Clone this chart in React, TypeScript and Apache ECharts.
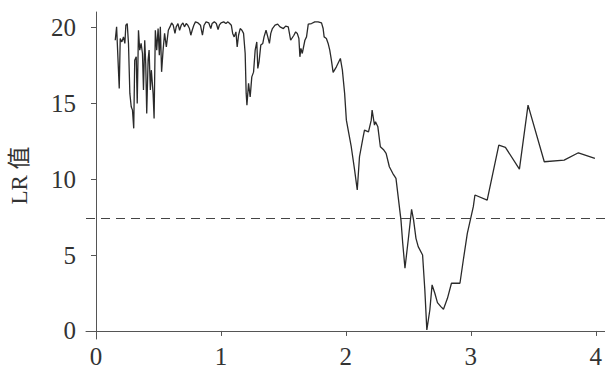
import React, { useEffect, useRef } from "react";
import * as echarts from "echarts";

const xValues: number[] = [
  0.154, 0.165, 0.186, 0.194, 0.207, 0.22, 0.231, 0.239, 0.25, 0.26,
  0.271, 0.282, 0.292, 0.302, 0.31, 0.322, 0.33, 0.34, 0.35, 0.361,
  0.372, 0.38, 0.39, 0.398, 0.406, 0.417, 0.425, 0.435, 0.443, 0.457,
  0.465, 0.475, 0.486, 0.497, 0.507, 0.515, 0.525, 0.537, 0.549, 0.563,
  0.579, 0.592, 0.605, 0.618, 0.632, 0.642, 0.656, 0.669, 0.682, 0.696,
  0.708, 0.722, 0.735, 0.748, 0.759, 0.77, 0.783, 0.796, 0.817, 0.836,
  0.852, 0.865, 0.881, 0.903, 0.919, 0.929, 0.947, 0.963, 0.977, 0.987,
  1.001, 1.022, 1.04, 1.056, 1.07, 1.083, 1.094, 1.106, 1.12, 1.13,
  1.141, 1.154, 1.168, 1.181, 1.194, 1.202, 1.208, 1.221, 1.234, 1.247,
  1.261, 1.274, 1.287, 1.295, 1.305, 1.319, 1.335, 1.345, 1.361, 1.375,
  1.388, 1.399, 1.412, 1.433, 1.454, 1.473, 1.5, 1.518, 1.539, 1.558,
  1.584, 1.598, 1.611, 1.624, 1.632, 1.64, 1.651, 1.672, 1.685, 1.699,
  1.725, 1.751, 1.778, 1.805, 1.818, 1.826, 1.844, 1.858, 1.871, 1.884,
  1.898, 1.924, 1.956, 1.972, 1.99, 2.004, 2.023, 2.043, 2.07, 2.091,
  2.109, 2.136, 2.149, 2.181, 2.203, 2.21, 2.229, 2.237, 2.256, 2.276,
  2.304, 2.322, 2.348, 2.375, 2.401, 2.441, 2.455, 2.473, 2.499, 2.526,
  2.542, 2.561, 2.579, 2.614, 2.632, 2.648, 2.672, 2.69, 2.712, 2.733,
  2.76, 2.781, 2.813, 2.845, 2.913, 2.94, 2.972, 2.999, 3.02, 3.033,
  3.131, 3.224, 3.277, 3.389, 3.458, 3.588, 3.747, 3.861, 3.993,
];

const lrValues: number[] = [
  19.14, 20.02, 15.97, 19.26, 19.03, 19.36, 18.93, 20.13, 20.24, 18.93,
  15.64, 14.76, 14.54, 13.34, 17.83, 18.05, 14.98, 19.8, 18.49, 18.93,
  18.27, 15.86, 19.14, 17.61, 14.32, 17.83, 18.49, 15.86, 17.17, 15.64,
  13.99, 19.8, 18.49, 19.91, 18.16, 20.02, 17.06, 18.49, 19.59, 18.7,
  19.8, 20.02, 20.28, 20.13, 19.59, 20.02, 20.24, 19.8, 20.13, 20.28,
  20.02, 20.24, 20.13, 19.91, 19.47, 19.8, 20.13, 20.35, 20.28, 20.13,
  19.47, 20.13, 20.35, 20.28, 19.91, 20.24, 20.35, 20.24, 19.85, 20.13,
  20.28, 20.35, 20.24, 20.35, 20.24, 20.13, 19.59, 19.36, 19.69, 18.7,
  19.47, 19.91, 19.8, 19.59, 18.27, 15.64, 14.87, 16.3, 15.41, 16.73,
  17.04, 18.49, 19.03, 17.28, 17.72, 18.82, 18.93, 19.36, 19.8, 19.36,
  18.93, 19.59, 19.91, 20.13, 20.2, 20.02, 19.91, 20.07, 20.02, 19.14,
  19.47, 19.69, 19.59, 19.26, 18.05, 18.6, 18.27, 19.14, 19.36, 20.2,
  20.24, 20.35, 20.35, 20.28, 19.91, 19.36, 19.26, 18.93, 18.49, 17.83,
  17.02, 17.39, 17.94, 17.17, 15.64, 13.88, 13.03, 12.13, 10.59, 9.28,
  11.47, 12.68, 13.22, 13.11, 13.88, 14.54, 13.55, 13.77, 13.44, 12.13,
  11.91, 11.69, 10.81, 10.38, 10.05, 7.3, 5.77, 4.13, 5.99, 8.01,
  7.3, 6.1, 5.55, 5.0, 2.7, 0.07, 1.38, 3.03, 2.48, 1.86,
  1.6, 1.43, 2.15, 3.14, 3.14, 4.67, 6.43, 7.41, 8.18, 8.95,
  8.62, 12.24, 12.09, 10.66, 14.87, 11.14, 11.25, 11.73, 11.36,
];

const xTicks: number[] = [0, 1, 2, 3, 4];
const yTicks: number[] = [0, 5, 10, 15, 20];
const threshold = 7.4;
const yAxisName = "LR 值";

const FONT = "Liberation Serif, Times New Roman, Noto Sans CJK SC, serif";

export default function App() {
  const ref = useRef<HTMLDivElement>(null);

  useEffect(() => {
    if (!ref.current) return;
    const chart = echarts.init(ref.current, null, { renderer: "svg" });
    const data = xValues.map((x, i) => [x, lrValues[i]]);
    const axisColor = "#555";
    chart.setOption({
      animation: false,
      backgroundColor: "#fff",
      grid: { left: 83, right: 0, top: 12, bottom: 31, containLabel: false },
      xAxis: {
        type: "value",
        min: -0.08,
        max: 4.074,
        splitLine: { show: false },
        axisLine: { show: true, lineStyle: { color: axisColor, width: 1 } },
        axisTick: {
          show: true,
          length: 5,
          lineStyle: { color: axisColor },
          customValues: xTicks,
        },
        axisLabel: {
          color: "#333",
          fontSize: 25,
          fontFamily: FONT,
          margin: 5,
          customValues: xTicks,
        },
      },
      yAxis: {
        type: "value",
        min: -0.53,
        max: 21,
        splitLine: { show: false },
        axisLine: { show: true, lineStyle: { color: axisColor, width: 1 } },
        axisTick: {
          show: true,
          length: 5,
          lineStyle: { color: axisColor },
          customValues: yTicks,
        },
        axisLabel: {
          color: "#333",
          fontSize: 25,
          fontFamily: FONT,
          margin: 10,
          customValues: yTicks,
        },
        name: yAxisName,
        nameLocation: "middle",
        nameGap: 55,
        nameRotate: 90,
        nameTextStyle: { color: "#333", fontSize: 23, fontFamily: FONT },
      },
      series: [
        {
          type: "line",
          data,
          showSymbol: false,
          symbol: "none",
          lineStyle: { color: "#2a2a2a", width: 1.3 },
          markLine: {
            silent: true,
            symbol: "none",
            label: { show: false },
            lineStyle: { color: "#444", type: [9, 6], width: 1.1 },
            data: [{ yAxis: threshold }],
          },
        },
      ],
    });
    return () => chart.dispose();
  }, []);

  return (
    <div
      ref={ref}
      style={{ width: 605, height: 370, position: "absolute", left: 0, top: 0 }}
    />
  );
}
